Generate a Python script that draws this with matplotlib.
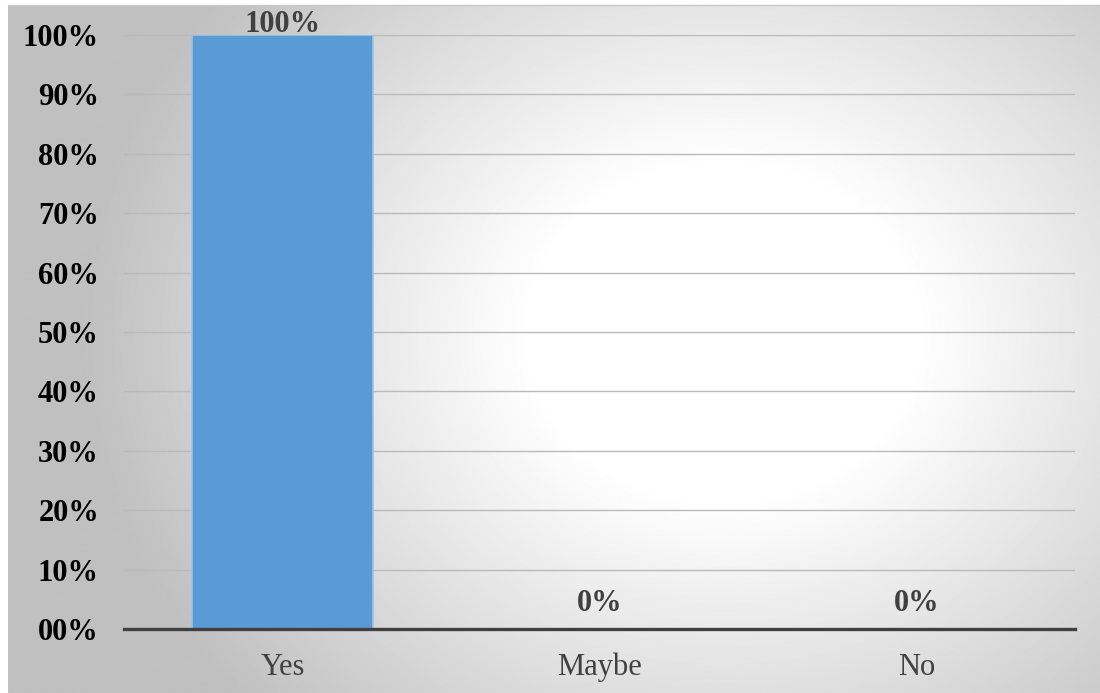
import numpy as np
import matplotlib
matplotlib.use("Agg")
import matplotlib.pyplot as plt

categories = ["Yes", "Maybe", "No"]
values = [100, 0, 0]
value_labels = ["100%", "0%", "0%"]
yticks = [0, 10, 20, 30, 40, 50, 60, 70, 80, 90, 100]
ytick_labels = ["00%", "10%", "20%", "30%", "40%", "50%", "60%", "70%", "80%", "90%", "100%"]

W, H = 1100, 693
fig = plt.figure(figsize=(11, 6.93), dpi=100)
fig.patch.set_facecolor("white")

# radial gradient background
bg = fig.add_axes([8/W, 0, (W-8)/W, (H-5)/H])
bg.set_axis_off()
yy, xx = np.mgrid[0:H, 0:W]
cx, cy = 720, 330
r = np.sqrt(((xx-cx)/650.0)**2 + ((yy-cy)/560.0)**2)
r = np.clip(r, 0, 1)
g = np.where(r < 0.3, 1.0, 1.0 - (r-0.3)/0.7*0.25)
bg.imshow(g, cmap="gray", vmin=0, vmax=1, aspect="auto", extent=[0, 1, 0, 1], interpolation="bilinear")
bg.set_xlim(0, 1); bg.set_ylim(0, 1)
fig.add_artist(plt.Line2D([8/W, 1], [(H-5)/H, (H-5)/H], color="#c8c8c8", linewidth=1))

ax = fig.add_axes([124/W, (H-629)/H, (1075-124)/W, (629-35)/H])
ax.patch.set_alpha(0)
x = np.arange(len(categories))
ax.bar(x, values, width=0.57, color="#5B9BD5", edgecolor="#9DC3E6", linewidth=1.2, zorder=3)
ax.set_xlim(-0.5, 2.5)
ax.set_ylim(0, 100)
ax.set_yticks(yticks)
ax.set_yticklabels(ytick_labels, fontfamily="Liberation Serif", fontweight="bold", fontsize=22, color="black")
ax.set_xticks(x)
ax.set_xticklabels(categories, fontfamily="Liberation Serif", fontsize=22, color="#404040")
ax.tick_params(axis="both", length=0)
ax.tick_params(axis="y", pad=18)
ax.tick_params(axis="x", pad=17)
ax.grid(axis="y", color="#bababa", linewidth=1.0, zorder=0)
for s in ["top", "right", "left"]:
    ax.spines[s].set_visible(False)
ax.spines["bottom"].set_color("#404040")
ax.spines["bottom"].set_linewidth(2.4)
ax.spines["bottom"].set_zorder(4)

for xi, v, lab in zip(x, values, value_labels):
    off = -3 if v >= 99 else 8
    ax.annotate(lab, (xi, v), xytext=(0, off), textcoords="offset points", ha="center", va="bottom",
                fontfamily="Liberation Serif", fontweight="bold", fontsize=22, color="#404040", zorder=5,
                annotation_clip=False)

fig.savefig("out.png", dpi=100)
